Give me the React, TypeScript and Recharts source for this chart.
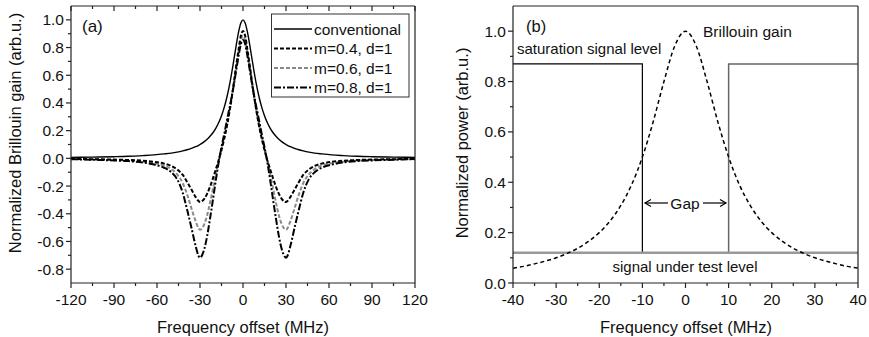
import React from 'react';
import { LineChart, Line, XAxis, YAxis } from 'recharts';

const FONT = '"Liberation Sans", Arial, Helvetica, sans-serif';

// ---- panel (a): Brillouin gain spectra ----
const freqA = [
  -120, -105, -90, -80, -70, -62, -55, -50, -46, -42, -39, -36, -33, -31, -30, -29, -27, -25, -23, -21,
  -19, -17, -15, -13, -11, -9, -7, -5, -3, -1.5, 0, 1.5, 3, 5, 7, 9, 11, 13, 15, 17, 19, 21, 23, 25, 27,
  29, 30, 31, 33, 36, 39, 42, 46, 50, 55, 62, 70, 80, 90, 105, 120,
];
const gainConv = [
  0.007, 0.009, 0.012, 0.015, 0.02, 0.025, 0.032, 0.038, 0.045, 0.054, 0.062, 0.072, 0.084, 0.094, 0.1,
  0.106, 0.121, 0.138, 0.159, 0.185, 0.217, 0.257, 0.308, 0.372, 0.452, 0.552, 0.671, 0.8, 0.917, 0.978,
  1.0, 0.978, 0.917, 0.8, 0.671, 0.552, 0.452, 0.372, 0.308, 0.257, 0.217, 0.185, 0.159, 0.138, 0.121,
  0.106, 0.1, 0.094, 0.084, 0.072, 0.062, 0.054, 0.045, 0.038, 0.032, 0.025, 0.02, 0.015, 0.012, 0.009,
  0.007,
];
const gainM04 = [
  -0.004, -0.006, -0.009, -0.012, -0.017, -0.025, -0.038, -0.055, -0.08, -0.12, -0.17, -0.225, -0.28,
  -0.308, -0.315, -0.312, -0.292, -0.255, -0.205, -0.145, -0.08, -0.015, 0.06, 0.145, 0.245, 0.365, 0.5,
  0.65, 0.79, 0.885, 0.92, 0.885, 0.79, 0.65, 0.5, 0.365, 0.245, 0.145, 0.06, -0.015, -0.08, -0.145,
  -0.205, -0.255, -0.292, -0.312, -0.315, -0.308, -0.28, -0.225, -0.17, -0.12, -0.08, -0.055, -0.038,
  -0.025, -0.017, -0.012, -0.009, -0.006, -0.004,
];
const gainM06 = [
  -0.005, -0.008, -0.012, -0.016, -0.024, -0.035, -0.052, -0.078, -0.115, -0.18, -0.26, -0.36, -0.455,
  -0.505, -0.516, -0.51, -0.475, -0.41, -0.32, -0.22, -0.115, -0.015, 0.075, 0.16, 0.255, 0.365, 0.495,
  0.635, 0.765, 0.85, 0.885, 0.85, 0.765, 0.635, 0.495, 0.365, 0.255, 0.16, 0.075, -0.015, -0.115, -0.22,
  -0.32, -0.41, -0.475, -0.51, -0.516, -0.505, -0.455, -0.36, -0.26, -0.18, -0.115, -0.078, -0.052,
  -0.035, -0.024, -0.016, -0.012, -0.008, -0.005,
];
const gainM08 = [
  -0.006, -0.01, -0.015, -0.02, -0.03, -0.045, -0.068, -0.1, -0.15, -0.25, -0.37, -0.5, -0.635, -0.705,
  -0.718, -0.708, -0.655, -0.56, -0.435, -0.3, -0.16, -0.03, 0.08, 0.18, 0.285, 0.385, 0.495, 0.62, 0.745,
  0.825, 0.855, 0.825, 0.745, 0.62, 0.495, 0.385, 0.285, 0.18, 0.08, -0.03, -0.16, -0.3, -0.435, -0.56,
  -0.655, -0.708, -0.718, -0.705, -0.635, -0.5, -0.37, -0.25, -0.15, -0.1, -0.068, -0.045, -0.03, -0.02,
  -0.015, -0.01, -0.006,
];
const ticksAX = [-120, -105, -90, -75, -60, -45, -30, -15, 0, 15, 30, 45, 60, 75, 90, 105, 120];
const ticksAY = [-0.8, -0.7, -0.6, -0.5, -0.4, -0.3, -0.2, -0.1, 0, 0.1, 0.2, 0.3, 0.4, 0.5, 0.6, 0.7, 0.8, 0.9, 1.0];
const legendA = ['conventional', 'm=0.4, d=1', 'm=0.6, d=1', 'm=0.8, d=1'];

// ---- panel (b): gap scheme ----
const freqGain = [
  -40, -37.5, -35, -32.5, -30, -27.5, -25, -22.5, -20, -17.5, -15, -12.5, -10, -7.5, -5, -2.5, 0, 2.5, 5,
  7.5, 10, 12.5, 15, 17.5, 20, 22.5, 25, 27.5, 30, 32.5, 35, 37.5, 40,
];
const gainB = [
  0.059, 0.066, 0.076, 0.087, 0.1, 0.117, 0.138, 0.165, 0.2, 0.246, 0.308, 0.39, 0.5, 0.64, 0.8, 0.941,
  1.0, 0.941, 0.8, 0.64, 0.5, 0.39, 0.308, 0.246, 0.2, 0.165, 0.138, 0.117, 0.1, 0.087, 0.076, 0.066, 0.059,
];
const satLeftF = [-40, -10, -10];
const satLeftP = [0.87, 0.87, 0.12];
const satRightF = [10, 10, 40];
const satRightP = [0.12, 0.87, 0.87];
const sutF = [-40, 40];
const sutP = [0.12, 0.12];
const ticksBX = [-40, -35, -30, -25, -20, -15, -10, -5, 0, 5, 10, 15, 20, 25, 30, 35, 40];
const ticksBY = [0, 0.1, 0.2, 0.3, 0.4, 0.5, 0.6, 0.7, 0.8, 0.9, 1.0];

const rowsA = freqA.map((f, i) => ({ f, conv: gainConv[i], m4: gainM04[i], m6: gainM06[i], m8: gainM08[i] }));
const toRows = (fs: number[], ps: number[]) => fs.map((f, i) => ({ f, p: ps[i] }));

const isMajor = (v: number, step: number) => Math.abs(v / step - Math.round(v / step)) < 1e-6;
const AX = '#222';

// ticks are drawn by hand so that minor ticks can be shorter than major ones
const Tick = (props: any) => {
  const { x, y, payload, side, step, fmt } = props;
  const v = payload.value;
  const major = isMajor(v, step);
  const len = major ? 5 : 3;
  const txt = { fontFamily: FONT, fontSize: 15.5, fill: '#111' };
  if (side === 'bottom') {
    return (
      <g>
        <line x1={x} y1={y} x2={x} y2={y + len} stroke={AX} strokeWidth={1.2} />
        {major && <text x={x} y={y + 22} textAnchor="middle" {...txt}>{fmt(v)}</text>}
      </g>
    );
  }
  if (side === 'left') {
    return (
      <g>
        <line x1={x - len} y1={y} x2={x} y2={y} stroke={AX} strokeWidth={1.2} />
        {major && <text x={x - 7} y={y + 5.5} textAnchor="end" {...txt}>{fmt(v)}</text>}
      </g>
    );
  }
  if (side === 'top') {
    return <line x1={x} y1={y} x2={x} y2={y + len} stroke={AX} strokeWidth={1.2} />;
  }
  return <line x1={x - len} y1={y} x2={x} y2={y} stroke={AX} strokeWidth={1.2} />;
};

const fmt1 = (v: number) => v.toFixed(1);
const fmt0 = (v: number) => String(Math.round(v));
const axisLine = { stroke: AX, strokeWidth: 1.2 };

const PanelA = () => (
  <LineChart width={440} height={337} data={rowsA} margin={{ top: 5, right: 24, bottom: 53, left: 70 }}>
    <XAxis dataKey="f" type="number" domain={[-120, 120]} ticks={ticksAX} interval={0} height={1}
      tickSize={0} tickMargin={0} axisLine={axisLine} tickLine={false}
      tick={<Tick side="bottom" step={30} fmt={fmt0} />} />
    <XAxis xAxisId="t" orientation="top" dataKey="f" type="number" domain={[-120, 120]} ticks={ticksAX}
      interval={0} height={1} tickSize={0} tickMargin={0} axisLine={axisLine} tickLine={false}
      tick={<Tick side="top" step={30} fmt={fmt0} />} />
    <YAxis type="number" domain={[-0.9, 1.1]} ticks={ticksAY} interval={0} width={1} tickSize={0}
      tickMargin={0} axisLine={axisLine} tickLine={false} allowDataOverflow
      tick={<Tick side="left" step={0.2} fmt={fmt1} />} />
    <YAxis yAxisId="r" orientation="right" type="number" domain={[-0.9, 1.1]} ticks={ticksAY} interval={0}
      width={1} tickSize={0} tickMargin={0} axisLine={axisLine} tickLine={false}
      tick={<Tick side="right" step={0.2} fmt={fmt1} />} />
    <Line dataKey="conv" type="monotone" stroke="#000" strokeWidth={1.4} dot={false} isAnimationActive={false} />
    <Line dataKey="m6" type="monotone" stroke="#8a8a8a" strokeWidth={2} strokeDasharray="4 2" dot={false} isAnimationActive={false} />
    <Line dataKey="m4" type="monotone" stroke="#000" strokeWidth={2} strokeDasharray="4 2" dot={false} isAnimationActive={false} />
    <Line dataKey="m8" type="monotone" stroke="#000" strokeWidth={2} strokeDasharray="7 2 2 2" dot={false} isAnimationActive={false} />
  </LineChart>
);

const PanelB = () => (
  <LineChart width={429} height={337} margin={{ top: 5, right: 10, bottom: 53, left: 72 }}>
    <XAxis dataKey="f" type="number" domain={[-40, 40]} ticks={ticksBX} interval={0} height={1}
      tickSize={0} tickMargin={0} axisLine={axisLine} tickLine={false}
      tick={<Tick side="bottom" step={10} fmt={fmt0} />} />
    <XAxis xAxisId="t" orientation="top" dataKey="f" type="number" domain={[-40, 40]} ticks={ticksBX}
      interval={0} height={1} tickSize={0} tickMargin={0} axisLine={axisLine} tickLine={false}
      tick={<Tick side="top" step={10} fmt={fmt0} />} />
    <YAxis type="number" domain={[0, 1.1]} ticks={ticksBY} interval={0} width={1} tickSize={0}
      tickMargin={0} axisLine={axisLine} tickLine={false}
      tick={<Tick side="left" step={0.2} fmt={fmt1} />} />
    <YAxis yAxisId="r" orientation="right" type="number" domain={[0, 1.1]} ticks={ticksBY} interval={0}
      width={1} tickSize={0} tickMargin={0} axisLine={axisLine} tickLine={false}
      tick={<Tick side="right" step={0.2} fmt={fmt1} />} />
    <Line data={toRows(satLeftF, satLeftP)} dataKey="p" type="linear" stroke="#000" strokeWidth={1.2} dot={false} isAnimationActive={false} />
    <Line data={toRows(satRightF, satRightP)} dataKey="p" type="linear" stroke="#666" strokeWidth={1.5} dot={false} isAnimationActive={false} />
    <Line data={toRows(sutF, sutP)} dataKey="p" type="linear" stroke="#999" strokeWidth={2.5} dot={false} isAnimationActive={false} />
    <Line data={toRows(freqGain, gainB)} dataKey="p" type="monotone" stroke="#000" strokeWidth={1.5} strokeDasharray="4 3" dot={false} isAnimationActive={false} />
  </LineChart>
);

const Overlay = () => {
  const t = { fontFamily: FONT, fill: '#111' };
  const rowY = [29, 48.5, 68, 87.5];
  const styles = [
    { stroke: '#000', strokeWidth: 1.4 },
    { stroke: '#000', strokeWidth: 2, strokeDasharray: '4 2' },
    { stroke: '#8a8a8a', strokeWidth: 2, strokeDasharray: '4 2' },
    { stroke: '#000', strokeWidth: 2, strokeDasharray: '7 2 2 2' },
  ];
  return (
    <svg width={869} height={337} style={{ position: 'absolute', left: 0, top: 0, pointerEvents: 'none' }}>
      {/* panel (a) */}
      <text x={82} y={32} fontSize={17} {...t}>(a)</text>
      <rect x={271.5} y={14} width={137.5} height={83} fill="#fff" stroke="#333" strokeWidth={1} />
      {legendA.map((name, i) => (
        <g key={name}>
          <line x1={274} x2={312} y1={rowY[i]} y2={rowY[i]} {...styles[i]} />
          <text x={314} y={rowY[i] + 5.5} fontSize={15.5} {...t}>{name}</text>
        </g>
      ))}
      <text x={243} y={333} fontSize={16.5} textAnchor="middle" {...t}>Frequency offset (MHz)</text>
      <text transform="translate(21,133) rotate(-90)" fontSize={16.5} textAnchor="middle" {...t}>
        Normalized Brillouin gain (arb.u.)
      </text>
      {/* panel (b) */}
      <text x={526} y={32} fontSize={16.5} {...t}>(b)</text>
      <text x={703} y={36.5} fontSize={15.5} {...t}>Brillouin gain</text>
      <text x={517} y={53.5} fontSize={15} {...t}>saturation signal level</text>
      <text x={685} y={208.5} fontSize={15.5} textAnchor="middle" {...t}>Gap</text>
      <line x1={645} x2={668} y1={203} y2={203} stroke="#000" strokeWidth={1.2} />
      <path d="M651 199.5 L645 203 L651 206.5" fill="none" stroke="#000" strokeWidth={1.2} />
      <line x1={703} x2={726} y1={203} y2={203} stroke="#000" strokeWidth={1.2} />
      <path d="M720 199.5 L726 203 L720 206.5" fill="none" stroke="#000" strokeWidth={1.2} />
      <text x={685} y={272} fontSize={15} textAnchor="middle" {...t}>signal under test level</text>
      <text x={686} y={333} fontSize={16.5} textAnchor="middle" {...t}>Frequency offset (MHz)</text>
      <text transform="translate(468,143) rotate(-90)" fontSize={16.5} textAnchor="middle" {...t}>
        Normalized power (arb.u.)
      </text>
    </svg>
  );
};

export default function App() {
  return (
    <div style={{ position: 'absolute', left: 0, top: 0, width: 869, height: 337, background: '#fff', overflow: 'hidden' }}>
      <div style={{ position: 'absolute', left: 0, top: 0 }}>
        <PanelA />
      </div>
      <div style={{ position: 'absolute', left: 440, top: 0 }}>
        <PanelB />
      </div>
      <Overlay />
    </div>
  );
}
